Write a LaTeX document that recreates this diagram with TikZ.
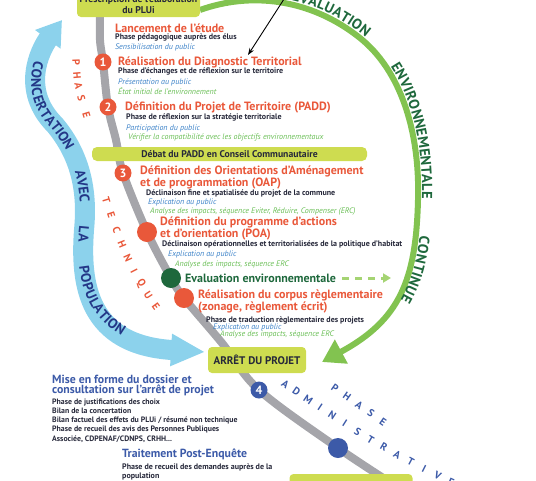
\documentclass[tikz,border=0pt]{standalone}
\usepackage{fontspec}
\setmainfont{PT Sans}
\usetikzlibrary{arrows.meta,decorations.text,positioning}

\definecolor{orangeT}{RGB}{233,88,58}
\definecolor{lime}{RGB}{206,220,80}
\definecolor{gris}{RGB}{165,165,170}
\definecolor{encre}{RGB}{38,40,58}
\definecolor{bleuI}{RGB}{60,130,200}
\definecolor{vertI}{RGB}{105,190,85}
\definecolor{vertF}{RGB}{30,104,60}
\definecolor{bleuF}{RGB}{60,90,168}
\definecolor{ciel}{RGB}{140,210,236}
\definecolor{bleuC}{RGB}{35,55,135}
\definecolor{vertA}{RGB}{130,195,80}
\definecolor{vertP}{RGB}{165,212,115}

\tikzset{
  titre/.style={anchor=west, inner sep=0pt, text=orangeT, align=left, font=\bfseries\fontsize{12}{11}\selectfont},
  soustitre/.style={anchor=west, inner sep=0pt, text=bleuF, align=left, font=\bfseries\fontsize{11.8}{10.5}\selectfont},
  desc/.style={anchor=west, inner sep=0pt, text=encre, align=left, font=\bfseries\fontsize{8}{9}\selectfont},
  expl/.style={anchor=west, inner sep=0pt, text=bleuI, font=\itshape\fontsize{8}{8}\selectfont},
  envi/.style={anchor=west, inner sep=0pt, text=vertI, font=\itshape\fontsize{8}{8}\selectfont},
  etape/.style={circle, fill=orangeT, text=white, inner sep=0pt, minimum size=17pt, font=\bfseries\fontsize{12}{12}\selectfont},
  bandeau/.style={fill=lime, rounded corners=4pt, inner sep=0pt, text=encre, align=center, font=\bfseries\fontsize{9.7}{9}\selectfont},
  piste/.style={draw=gris, line width=8pt},
  lettreT/.style={text=orangeT, inner sep=0pt, font=\bfseries\fontsize{10.5}{10}\selectfont},
  lettreA/.style={text=bleuF, inner sep=0pt, font=\bfseries\fontsize{10.5}{10}\selectfont},
  pointille/.style={draw=vertP, line width=3pt, dash pattern=on 7pt off 6pt, -{Triangle[width=9pt,length=8pt]}},
}

\newcommand\arceval{(200,-10) .. controls (250,8) and (310,2) .. (360,-38) .. controls (400,-70) and (420,-130) .. (418,-200) .. controls (416,-280) and (400,-320) .. (322,-362)}
\newcommand\bande{(62,-20) .. controls (40,-50) and (20,-90) .. (55,-125) .. controls (80,-155) and (88,-190) .. (84,-230) .. controls (80,-285) and (88,-345) .. (205,-352)}

\begin{document}
\begin{tikzpicture}[x=1pt,y=1pt]
    \useasboundingbox (0,0) rectangle (536,-480);
    \clip (0,0) rectangle (536,-480);

    % concertation
    \draw[ciel, line width=20pt, {Triangle[width=30pt,length=24pt]}-{Triangle[width=30pt,length=34pt]}] \bande;
    \path[decorate, decoration={text along path, text={|\bfseries\fontsize{14}{14}\selectfont|CONCERTATION AVEC LA POPULATION}, text color=bleuC, raise=-4.9pt, text align={fit to path stretching spaces, left indent=48pt, right indent=84pt}}] \bande;

    % evaluation environnementale
    \draw[vertA, line width=6pt, -{Triangle[width=26pt,length=22pt]}] \arceval;
    \path[decorate, decoration={text along path, text={|\bfseries\fontsize{14.5}{14}\selectfont|EVALUATION ENVIRONNEMENTALE CONTINUE}, text color=vertF, raise=4pt, text align={fit to path stretching spaces, left indent=92pt, right indent=100pt}}] \arceval;

    % piste
    \coordinate (p1) at (103,-62);
    \coordinate (p2) at (108,-107);
    \coordinate (p3) at (123,-173);
    \coordinate (ppoa) at (147,-232);
    \coordinate (peval) at (171,-278);
    \coordinate (pcorpus) at (184,-298);
    \coordinate (p4) at (259,-390);
    \coordinate (padm) at (338,-448);
    \draw[piste] plot[smooth, tension=0.55] coordinates {(100,-10) (100,-40) (p1) (p2) (116,-140) (p3) (ppoa) (peval) (pcorpus) (222,-343) (p4) (padm) (405,-492)};

    \foreach \l [count=\i] in {P,H,A,S,E}{
        \pgfmathsetmacro\t{(\i-0.5)/5}
        \path (76,-54) .. controls (77,-85) .. (90,-126) node[lettreT, sloped, pos=\t] (tph\i) {\l};
    }
    \foreach \l [count=\i] in {T,E,C,H,N,I,Q,U,E}{
        \pgfmathsetmacro\t{(\i-0.5)/9}
        \path (104,-192) .. controls (118,-240) and (135,-280) .. (160,-312) node[lettreT, sloped, pos=\t] (tte\i) {\l};
    }
    \foreach \l [count=\i] in {P,H,A,S,E}{
        \pgfmathsetmacro\t{(\i-0.5)/5}
        \path (329,-384) -- (389,-426) node[lettreA, sloped, pos=\t] (aph\i) {\l};
    }
    \foreach \l [count=\i] in {A,D,M,I,N,I,S,T,R,A,T,I,V,E}{
        \pgfmathsetmacro\t{(\i-0.5)/14}
        \path (280,-380) .. controls (330,-415) and (395,-458) .. (458,-485) node[lettreA, sloped, pos=\t] (aad\i) {\l};
    }

    % bandeaux
    \node[bandeau, minimum width=123pt, minimum height=25pt, font=\bfseries\fontsize{9.8}{11}\selectfont] (presc) at (138.5,-4.5) {Prescription de l’élaboration\\du PLUi};
    \node[bandeau, minimum width=275pt, minimum height=14pt, rounded corners=5pt] (debat) at (229.5,-154) {Débat du PADD en Conseil Communautaire};
    \node[bandeau, minimum width=98pt, minimum height=26pt, font=\bfseries\fontsize{11}{11}\selectfont] (arret) at (257,-360) {ARRÊT DU PROJET};
    \node[bandeau, minimum width=123pt, minimum height=24pt] (basbox) at (351,-486) {};

    \coordinate (flecheA) at (286,4);
    \coordinate (flecheB) at (248,-55);
    \draw[line width=0.9pt, -{Stealth[length=7pt,width=5pt]}] (flecheA) -- (flecheB);

    % etapes
    \node[titre] (lanc) at (115,-28) {Lancement de l’étude};
    \node[desc] (lancd) at (115,-37.5) {Phase pédagogique auprès des élus};
    \node[expl] (lance) at (115,-47) {Sensibilisation du public};

    \node[etape] (c1) at (p1) {1};
    \node[titre] (diag) at (118,-62) {Réalisation du Diagnostic Territorial};
    \node[desc] (diagd) at (118,-71.5) {Phase d’échanges et de réflexion sur le territoire};
    \node[expl] (diage) at (118,-82) {Présentation au public};
    \node[envi] (diagv) at (118,-91) {État initial de l’environnement};

    \node[etape] (c2) at (p2) {2};
    \node[titre] (padd) at (125,-107) {Définition du Projet de Territoire (PADD)};
    \node[desc] (paddd) at (126,-117.5) {Phase de réflexion sur la stratégie territoriale};
    \node[expl] (padde) at (126,-128) {Participation du public};
    \node[envi] (paddv) at (128,-137) {Vérifier la compatibilité avec les objectifs environnementaux};

    \node[etape] (c3) at (p3) {3};
    \node[titre] (oap) at (140,-177.5) {Définition des Orientations d’Aménagement\\et de programmation (OAP)};
    \node[desc] (oapd) at (146,-193) {Déclinaison fine et spatialisée du projet de la commune};
    \node[expl] (oape) at (148,-202) {Explication au public};
    \node[envi] (oapv) at (150,-211.5) {Analyse des impacts, séquence Eviter, Réduire, Compenser (ERC)};

    \node[etape, minimum size=20pt] (cpoa) at (ppoa) {};
    \node[titre] (poa) at (160,-228.5) {Définition du programme d’actions\\et d’orientation (POA)};
    \node[desc] (poad) at (162,-244) {Déclinaison opérationnelles et territorialisées de la politique d’habitat};
    \node[expl] (poae) at (168,-254) {Explication au public};
    \node[envi] (poav) at (175,-264) {Analyse des impacts, séquence ERC};

    \node[etape, fill=vertF, minimum size=20pt] (ceval) at (peval) {};
    \node[titre, text=vertF] (evalt) at (185,-278) {Evaluation environnementale};
    \coordinate (dashend) at (391,-278);
    \draw[pointille] ([xshift=6pt]evalt.east) -- (dashend);

    \node[etape, minimum size=20pt] (ccorpus) at (pcorpus) {};
    \node[titre] (corpus) at (198,-301.5) {Réalisation du corpus règlementaire\\(zonage, règlement écrit)};
    \node[desc] (corpusd) at (206,-320) {Phase de traduction règlementaire des projets};
    \node[expl] (corpuse) at (213,-327) {Explication au public};
    \node[envi] (corpusv) at (220,-334) {Analyse des impacts, séquence ERC};

    \node[etape, fill=bleuF] (c4) at (p4) {4};
    \node[etape, fill=bleuF, minimum size=20pt] (cadm) at (padm) {};

    \node[soustitre] (mise) at (52,-385.5) {Mise en forme du dossier et\\consultation sur l’arrêt de projet};
    \node[desc, font=\bfseries\fontsize{7.8}{9.2}\selectfont] (mised) at (52,-420.5) {Phase de justifications des choix\\Bilan de la concertation\\Bilan factuel des effets du PLUi / résumé non technique\\Phase de recueil des avis des Personnes Publiques\\Associée, CDPENAF/CDNPS, CRHH...};
    \node[soustitre] (postenq) at (122,-454) {Traitement Post-Enquête};
    \node[desc] (postenqd) at (122,-471.5) {Phase de recueil des demandes auprès de la\\population};
\end{tikzpicture}
\end{document}
